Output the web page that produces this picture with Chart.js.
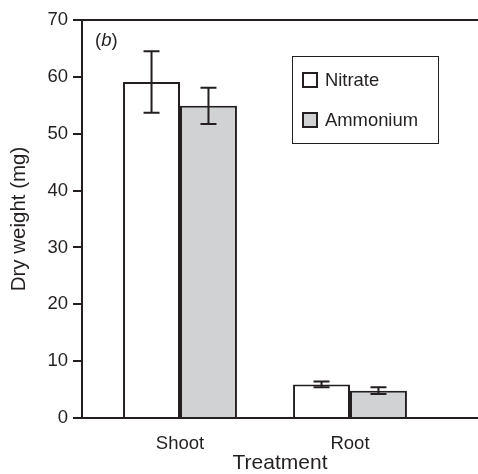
<!DOCTYPE html>
<html>
<head>
<meta charset="utf-8">
<script src="https://cdn.jsdelivr.net/npm/chart.js@4"></script>
<style>
  body { margin: 0; background: #fff; }
  #wrap { width: 478px; height: 474px; position: relative; }
</style>
</head>
<body>
<div id="wrap"><canvas id="myChart"></canvas></div>
<script>
const categories = ["Shoot", "Root"];
const seriesNames = ["Nitrate", "Ammonium"];
const nitrate = [59.1, 5.9];
const nitrateErr = [5.4, 0.5];
const ammonium = [54.9, 4.8];
const ammoniumErr = [3.2, 0.6];
const yTicks = [0, 10, 20, 30, 40, 50, 60, 70];

const ink = "#231f20";
const font = "'Liberation Sans', Arial, Helvetica, sans-serif";
const ctx = document.getElementById("myChart");

// bars sit at x = 1, 2 on a linear scale so the gap can match the figure
const toPoints = (vals) => vals.map((v, i) => ({ x: i + 1, y: v }));

const errorBars = {
  id: "errorBars",
  afterDatasetsDraw(chart) {
    const c = chart.ctx;
    const errs = [nitrateErr, ammoniumErr];
    c.save();
    c.strokeStyle = ink;
    c.lineWidth = 2;
    chart.data.datasets.forEach((ds, d) => {
      chart.getDatasetMeta(d).data.forEach((bar, i) => {
        const y = chart.scales.y;
        const hi = y.getPixelForValue(ds.data[i].y + errs[d][i]);
        const lo = y.getPixelForValue(ds.data[i].y - errs[d][i]);
        c.beginPath();
        c.moveTo(bar.x, hi); c.lineTo(bar.x, lo);
        c.moveTo(bar.x - 8, hi); c.lineTo(bar.x + 8, hi);
        c.moveTo(bar.x - 8, lo); c.lineTo(bar.x + 8, lo);
        c.stroke();
      });
    });
    c.restore();
  }
};

const frame = {
  id: "frame",
  afterDraw(chart) {
    const c = chart.ctx;
    const a = chart.chartArea;
    c.save();
    c.strokeStyle = ink;
    c.lineWidth = 2;
    c.beginPath();
    c.moveTo(a.left - 9, a.top);
    c.lineTo(chart.width, a.top);
    c.stroke();

    // panel letter
    c.fillStyle = ink;
    c.textBaseline = "middle";
    c.font = "18.5px " + font;
    c.fillText("(", 95, 41);
    let w = c.measureText("(").width;
    c.font = "italic 18.5px " + font;
    c.fillText("b", 95 + w, 41);
    w += c.measureText("b").width;
    c.font = "18.5px " + font;
    c.fillText(")", 95 + w, 41);

    // legend box
    c.lineWidth = 1;
    c.strokeRect(292.5, 56.5, 146, 87);
    chart.data.datasets.forEach((ds, i) => {
      const cy = 80 + i * 40;
      c.fillStyle = ds.backgroundColor;
      c.fillRect(303, cy - 7, 14, 14);
      c.lineWidth = 2;
      c.strokeRect(303, cy - 7, 14, 14);
      c.fillStyle = ink;
      c.font = "18.4px " + font;
      c.fillText(ds.label, 325, cy + 1);
    });
    c.restore();
  }
};

new Chart(ctx, {
  type: "bar",
  data: {
    datasets: [
      {
        label: seriesNames[0],
        data: toPoints(nitrate),
        backgroundColor: "#ffffff",
        borderColor: ink,
        borderWidth: 2,
      },
      {
        label: seriesNames[1],
        data: toPoints(ammonium),
        backgroundColor: "#d1d2d4",
        borderColor: ink,
        borderWidth: 2,
      },
    ],
  },
  options: {
    responsive: true,
    maintainAspectRatio: false,
    animation: false,
    layout: { padding: { top: 20, right: 0, left: 0, bottom: 0 } },
    plugins: { legend: { display: false }, tooltip: { enabled: false } },
    datasets: { bar: { barPercentage: 1, categoryPercentage: 0.67 } },
    scales: {
      x: {
        type: "linear",
        offset: false,
        min: 0.4235,
        max: 2.753,
        afterFit: (s) => { s.height = 56; },
        afterBuildTicks: (s) => { s.ticks = categories.map((_, i) => ({ value: i + 1 })); },
        grid: { display: false, drawTicks: false, offset: false },
        border: { display: true, color: ink, width: 2 },
        ticks: {
          color: ink,
          padding: 17,
          font: { family: font, size: 18.5, lineHeight: 1 },
          callback: (v) => categories[v - 1] || "",
        },
        title: {
          display: true,
          text: "Treatment",
          color: ink,
          padding: { top: 0, bottom: 0 },
          font: { family: font, size: 21, lineHeight: 1 },
        },
      },
      y: {
        min: 0,
        max: 70,
        afterFit: (s) => { s.width = 82; },
        afterBuildTicks: (s) => { s.ticks = yTicks.map((v) => ({ value: v })); },
        grid: { drawOnChartArea: false, drawTicks: true, tickLength: 9, color: ink, lineWidth: 2 },
        border: { display: true, color: ink, width: 2 },
        ticks: {
          color: ink,
          padding: 5,
          font: { family: font, size: 18.5 },
        },
        title: {
          display: true,
          text: "Dry weight (mg)",
          color: ink,
          padding: { top: 9, bottom: 0 },
          font: { family: font, size: 20.5, lineHeight: 1 },
        },
      },
    },
  },
  plugins: [errorBars, frame],
});
</script>
</body>
</html>
